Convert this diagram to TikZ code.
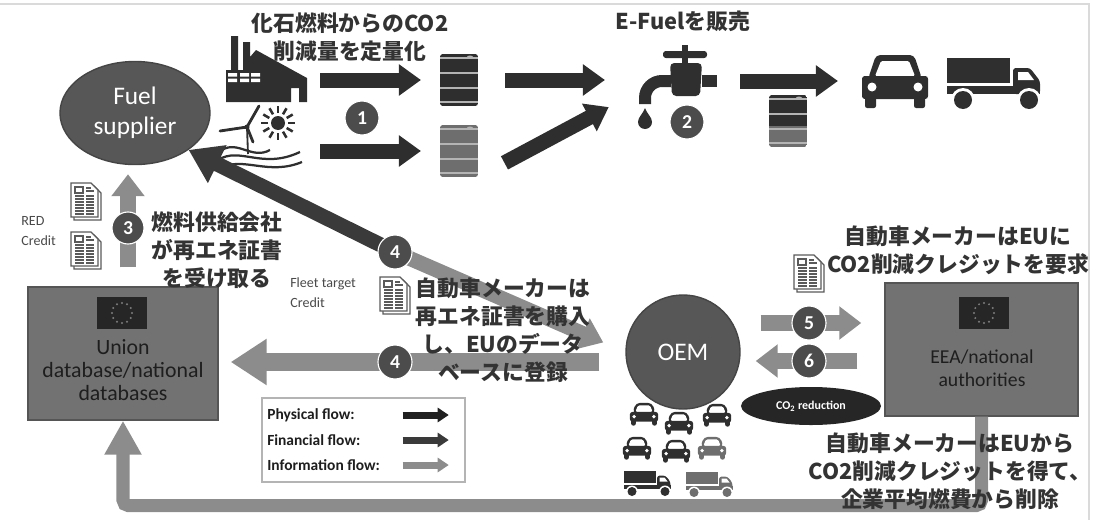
\documentclass[tikz,border=0pt]{standalone}
\usepackage{fontspec}
\setmainfont{Carlito}
\newfontfamily\jpfont{Noto Sans CJK JP}
\usetikzlibrary{positioning, shapes.geometric, arrows.meta}

\definecolor{physgray}{HTML}{2E2E2E}
\definecolor{fingray}{HTML}{3A3A3A}
\definecolor{infogray}{HTML}{8C8C8C}
\definecolor{numgray}{HTML}{4C4C4C}
\definecolor{jpgray}{HTML}{333333}
\definecolor{icongray}{HTML}{2F2F2F}
\definecolor{iconlight}{HTML}{6E6E6E}
\definecolor{bubble}{HTML}{575757}
\definecolor{bubbleedge}{HTML}{454545}
\definecolor{boxgray}{HTML}{727272}
\definecolor{boxedge}{HTML}{555555}
\definecolor{boxtext}{HTML}{1E1E1E}
\definecolor{co2dark}{HTML}{262626}
\definecolor{docgray}{HTML}{5A5A5A}
\definecolor{ringgray}{HTML}{B4B4B4}
\definecolor{framegray}{HTML}{DADADA}
\definecolor{smallgray}{HTML}{4A4A4A}

\tikzset{font=\fontsize{10}{13}\selectfont}
\tikzstyle{iconbox}  = [inner sep=0pt, outer sep=0pt]
\tikzstyle{numcirc}  = [circle, fill=numgray, draw=white, line width=0.8pt, text=white, inner sep=0pt, minimum size=0.85cm, font=\bfseries\fontsize{14}{14}\selectfont]
\tikzstyle{jp}       = [align=center, text=jpgray, font=\jpfont\bfseries\fontsize{15.5}{20}\selectfont]
\tikzstyle{smalltext} = [align=left, text=smallgray, inner sep=0pt, font=\fontsize{10}{14}\selectfont]
\tikzstyle{legendtext} = [inner sep=0pt, text=boxtext, font=\bfseries\fontsize{11}{13}\selectfont]
\tikzstyle{dbbox}    = [draw=boxedge, fill=boxgray, line width=1pt, minimum height=3.325cm]
\tikzstyle{dbtext}   = [align=center, text=boxtext, font=\fontsize{15.5}{16.5}\selectfont]
\tikzstyle{physflow} = [physgray, line width=0.375cm, -{Triangle[length=0.55cm, width=0.75cm]}]
\tikzstyle{finflow}  = [fingray, line width=0.375cm, -{Triangle[length=0.8cm, width=1.0cm]}]
\tikzstyle{infoflow} = [infogray, line width=0.4cm, -{Triangle[length=0.55cm, width=0.8cm]}]
\tikzstyle{infowide} = [infogray, line width=0.45cm, -{Triangle[length=0.9cm, width=1.1cm]}]
\tikzstyle{infoback} = [infogray, line width=0.325cm, rounded corners=4pt, -{Triangle[length=0.85cm, width=0.875cm]}]
\tikzstyle{legendflow} = [line width=0.175cm, -{Triangle[length=0.275cm, width=0.35cm]}]

% small icons
\tikzset{
  pics/barrel/.style 2 args={code={
    \begin{scope}
      \clip[rounded corners=2pt] (-19,-26) rectangle (19,26);
      \fill[#1] (-19,-26) rectangle (19,5);
      \fill[#2] (-19,5) rectangle (19,26);
    \end{scope}
    \draw[ringgray, line width=1pt] (-19,-22) -- (19,-22) (-19,-7) -- (19,-7)
      (-19,8) -- (19,8) (-19,22) -- (19,22);
    \fill[ringgray] (11,-23) ellipse (3 and 1.5);
  }},
  pics/car/.style={code={
    \fill[#1, rounded corners=3pt] (-27,-2) -- (-19,-26) -- (19,-26) -- (27,-2) -- cycle;
    \fill[white, rounded corners=1pt] (-20,-5) -- (-14,-20) -- (14,-20) -- (20,-5) -- cycle;
    \fill[#1, rounded corners=2pt] (-33,-5) rectangle (33,18);
    \fill[#1, rounded corners=1.5pt] (-30,12) rectangle (-19,27);
    \fill[#1, rounded corners=1.5pt] (19,12) rectangle (30,27);
    \fill[white] (-23,6) circle (4.5);
    \fill[white] (23,6) circle (4.5);
  }},
  pics/truck/.style={code={
    \fill[#1] (-46,-25) rectangle (17,0);
    \fill[#1] (-46,3) rectangle (47,11);
    \fill[#1, rounded corners=2pt] (20,11) -- (20,-15) -- (37,-15) -- (47,-2) -- (47,11) -- cycle;
    \fill[white] (25,-11) -- (35,-11) -- (41,-3) -- (25,-3) -- cycle;
    \foreach \w in {-30,36} {
      \fill[white] (\w,17) circle (12);
      \fill[#1] (\w,17) circle (9);
    }
  }},
  pics/doc/.style={code={
    \draw[docgray, fill=white, line width=1pt] (-12,-15) -- (8,-15) -- (15,-8) -- (15,19) -- (-12,19) -- cycle;
    \draw[docgray, fill=white, line width=1pt] (-15,-18) -- (5,-18) -- (12,-11) -- (12,16) -- (-15,16) -- cycle;
    \draw[docgray, line width=0.8pt] (-11,-14) rectangle (-3,-8);
    \draw[docgray, line width=0.8pt] (0,-13) -- (5,-13) (0,-10) -- (8,-10);
    \foreach \y in {-5,-2,...,13}
      \draw[docgray, line width=0.8pt] (-11,\y) -- (-2,\y) (0,\y) -- (8,\y);
  }},
  pics/euflag/.style={code={
    \fill[co2dark] (-25,-16) rectangle (25,16);
    \foreach \a in {0,30,...,330}
      \fill[ringgray!70!black] (\a:10) circle (1.1);
  }}
}

\begin{document}
\begin{tikzpicture}[x=0.025cm, y=-0.025cm]
\useasboundingbox (0,0) rectangle (1093,520);
\draw[framegray, line width=0.8pt] (0,4) -- (1089,4) -- (1089,520);

% icon places
\node[iconbox, minimum width=2.1cm, minimum height=1.7cm] (factory) at (266,69) {};
\node[iconbox, minimum width=2.1cm, minimum height=1.55cm] (windsun) at (260,135) {};
\node[iconbox, minimum width=0.95cm, minimum height=1.3cm] (barrelA) at (459,80) {};
\node[iconbox, minimum width=0.95cm, minimum height=1.3cm] (barrelB) at (459,151) {};
\node[iconbox, minimum width=2.0cm, minimum height=2.25cm] (tap) at (677,92) {};
\node[iconbox, minimum width=0.95cm, minimum height=1.3cm] (barrelC) at (788,121) {};
\node[iconbox, minimum width=1.65cm, minimum height=1.325cm] (car) at (895,81) {};
\node[iconbox, minimum width=2.35cm, minimum height=1.3cm] (truck) at (993,83) {};

% factory
\fill[icongray] (226,102) -- (226,70) -- (231,70) -- (231,36) -- (238,36) -- (238,70)
  -- (243,70) -- (243,42) -- (250,42) -- (250,57) -- (256,50) -- (307,78) -- (307,102)
  -- (299,102) -- (299,88) -- (291,88) -- (291,102) -- cycle;
\foreach \wx in {228,240,251}
  \fill[white] (\wx,73) rectangle ++(9,3.5) (\wx,78.5) rectangle ++(9,3.5);

% wind turbine, sun and waves
\foreach \a in {0,30,...,330}
  \draw[icongray, line width=1.8pt, shift={(278,123)}] (\a:10) -- (\a:17);
\fill[icongray] (278,123) circle (7);
\draw[icongray, line width=1.3pt] (247,127) -- (248,154);
\draw[icongray, line width=2pt, line cap=round] (247,127) -- (259,106) (247,127) -- (220,131) (247,127) -- (253,142);
\fill[icongray] (247,127) circle (2.5);
\draw[icongray, line width=1.6pt] (222,150) .. controls (238,140) and (252,160) .. (270,150)
  (218,160) .. controls (240,146) and (262,170) .. (300,152)
  (220,168) .. controls (244,156) and (268,176) .. (302,162);

% barrels
\pic at (barrelA) {barrel={physgray}{physgray}};
\pic at (barrelB) {barrel={iconlight}{iconlight}};
\pic at (barrelC) {barrel={physgray}{iconlight}};

% tap
\fill[icongray, rounded corners=2pt] (663,51) rectangle (707,58);
\fill[icongray] (682,45) rectangle (688,64);
\fill[icongray, rounded corners=3pt] (670,63) -- (702,63) -- (700,96) -- (672,96) -- cycle;
\fill[icongray] (702,75) rectangle (717,87);
\draw[icongray, line width=0.3cm] (671,81) -- (662,81) to[out=180, in=90] (645,98) -- (645,104);
\fill[icongray] (645,108) .. controls (643,114) and (638,117) .. (638,122)
  arc[start angle=180, end angle=0, radius=7] .. controls (652,117) and (647,114) .. (645,108) -- cycle;

% vehicles
\pic at (car) {car=icongray};
\pic at (truck) {truck=icongray};
\pic[scale=0.43] at (644,414) {car=icongray};
\pic[scale=0.43] at (679,423) {car=icongray};
\pic[scale=0.43] at (717,415) {car=icongray};
\pic[scale=0.43] at (637,448) {car=icongray};
\pic[scale=0.43] at (676,451) {car=icongray};
\pic[scale=0.43] at (712,448) {car=iconlight};
\pic[scale=0.5] at (647,483) {truck=icongray};
\pic[scale=0.5] at (709,484) {truck=iconlight};

% main actors
\node[ellipse, fill=bubble, draw=bubbleedge, line width=1pt, minimum width=3.75cm, minimum height=2.575cm,
  inner sep=0pt, text=white, align=center, font=\fontsize{18}{21}\selectfont] (supplier) at (135,113) {Fuel\\supplier};
\node[dbbox, minimum width=4.75cm] (union) at (123,353.5) {};
\pic at (122,313) {euflag};
\node[dbtext] (uniontext) at (123,370) {Union\\database/national\\databases};
\node[dbbox, minimum width=4.825cm] (eea) at (981.5,349.5) {};
\pic at (984,313) {euflag};
\node[dbtext, font=\fontsize{14}{16.5}\selectfont] (eeatext) at (982,368.5) {EEA/national\\authorities};
\node[circle, fill=bubble, draw=bubbleedge, line width=1pt, minimum size=2.85cm, text=white,
  font=\fontsize{18}{18}\selectfont] (oem) at (683,352) {OEM};
\node[ellipse, fill=co2dark, minimum width=3.5cm, minimum height=0.95cm, inner sep=0pt, text=white,
  font=\bfseries\fontsize{8.5}{9}\selectfont] (co2) at (811,406) {CO\textsubscript{2} reduction};

% step markers
\coordinate (p1) at (362,118);
\coordinate (p2) at (687,122);
\coordinate (p3) at (128,228);
\coordinate (p4a) at (395,252);
\coordinate (p4b) at (395,362);
\coordinate (p5) at (809,323);
\coordinate (p6) at (809,361);

% physical flows
\draw[physflow, shorten <=0.3cm, shorten >=0.475cm] (barrelA.west -| factory.east) -- (barrelA.west);
\draw[physflow, shorten <=0.45cm, shorten >=0.475cm] (barrelB.west -| windsun.east) -- (barrelB.west);
\draw[physflow, shorten <=0.675cm, shorten >=0.8cm] (barrelA.east) -- (barrelA.east -| tap.west);
\draw[physflow, shorten <=0.75cm, shorten >=0.8cm] (barrelB.south east) -- (tap.west);
\draw[physflow, shorten <=0.575cm, shorten >=0.6cm] (car.west -| tap.east) -- (car.west);

% financial and information flows
\draw[infoflow, shorten <=0.475cm, shorten >=0.225cm] (union.north -| p3) -- (supplier.south -| p3);
\draw[finflow] (p4a) -- (supplier.south east);
\draw[infoflow, line width=0.375cm, shorten >=0.6cm] (p4a) -- (oem.west);
\draw[infowide, shorten <=0.65cm, shorten >=0.3cm] (oem.west |- p4b) -- (union.east |- p4b);
\draw[infoflow, shorten <=0.5cm, shorten >=0.575cm] (oem.east |- p5) -- (eea.west |- p5);
\draw[infoflow, shorten <=0.675cm, shorten >=0.375cm] (eea.west |- p6) -- (oem.east |- p6);
\draw[infoback] (eea.south) -- ++(0,89) -| (union.south);

% certificates
\pic at (86,201) {doc};
\pic at (86,250) {doc};
\pic at (395,295) {doc};
\pic at (809,273) {doc};
\node[smalltext, anchor=west] (redcredit) at (21,231) {RED\\Credit};
\node[smalltext, anchor=west] (fleetcredit) at (290,293) {Fleet target\\Credit};

\node[numcirc] (n1) at (p1) {1};
\node[numcirc] (n2) at (p2) {2};
\node[numcirc, minimum size=0.8cm] (n3) at (p3) {3};
\node[numcirc] (n4a) at (p4a) {4};
\node[numcirc] (n4b) at (p4b) {4};
\node[numcirc] (n5) at (p5) {5};
\node[numcirc] (n6) at (p6) {6};

% notes
\node[jp] (t1) at (350,37.5) {化石燃料からのCO2\\削減量を定量化};
\node[jp] (t2) at (683,21) {E-Fuelを販売};
\node[jp] (t3) at (217,250) {燃料供給会社\\が再エネ証書\\を受け取る};
\node[jp] (t4) at (503,330) {自動車メーカーは\\再エネ証書を購入\\し、EUのデータ\\ベースに登録};
\node[jp] (t5) at (958,250) {自動車メーカーはEUに\\CO2削減クレジットを要求};
\node[jp] (t6) at (950,471) {自動車メーカーはEUから\\CO2削減クレジットを得て、\\企業平均燃費から削除};

% legend
\node[draw=ringgray, fill=white, line width=1pt, minimum width=5.075cm, minimum height=2.1cm] (legend) at (363.5,440) {};
\node[legendtext, anchor=west] (lgphys) at (267,415) {Physical flow:};
\node[legendtext, below=0.625cm of lgphys.west, anchor=west] (lgfin) {Financial flow:};
\node[legendtext, below=0.625cm of lgfin.west, anchor=west] (lginfo) {Information flow:};
\draw[legendflow, physgray!70!black] (legend.east |- lgphys) ++(-63,0) -- ++(46,0);
\draw[legendflow, fingray] (legend.east |- lgfin) ++(-63,0) -- ++(46,0);
\draw[legendflow, infogray] (legend.east |- lginfo) ++(-63,0) -- ++(46,0);
\end{tikzpicture}
\end{document}
